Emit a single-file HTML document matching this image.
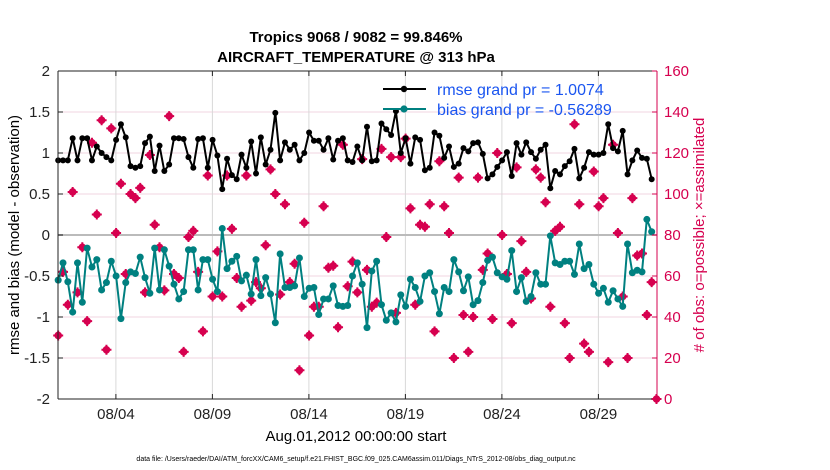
<!DOCTYPE html>
<html><head><meta charset="utf-8"><style>
body{margin:0;background:#fff;}
svg{display:block;font-family:"Liberation Sans",sans-serif;}
</style></head><body>
<svg id="chart" width="830" height="470" viewBox="0 0 830 470" xmlns="http://www.w3.org/2000/svg">
<text x="356" y="42" text-anchor="middle" font-size="15" font-weight="bold">Tropics 9068 / 9082 = 99.846%</text>
<text x="356" y="62" text-anchor="middle" font-size="15" font-weight="bold">AIRCRAFT_TEMPERATURE @ 313 hPa</text>
<g id="grid"></g>
<g id="marks"></g>
<g id="axes"></g>
<text x="356" y="441" text-anchor="middle" font-size="15">Aug.01,2012 00:00:00 start</text>
<text transform="translate(19,235) rotate(-90)" text-anchor="middle" font-size="15">rmse and bias (model - observation)</text>
<text transform="translate(704,235) rotate(-90)" text-anchor="middle" font-size="15" fill="#d6004f"># of obs: o=possible; ×=assimilated</text>
<text x="356" y="461" text-anchor="middle" font-size="7">data file: /Users/raeder/DAI/ATM_forcXX/CAM6_setup/f.e21.FHIST_BGC.f09_025.CAM6assim.011/Diags_NTrS_2012-08/obs_diag_output.nc</text>
<g>
<line x1="383" y1="89" x2="426" y2="89" stroke="#000" stroke-width="2"/>
<circle cx="404" cy="89" r="3.2" fill="#000"/>
<text x="437" y="95" font-size="16" fill="#1a55f0">rmse grand pr = 1.0074</text>
<line x1="383" y1="109" x2="426" y2="109" stroke="#008080" stroke-width="2"/>
<circle cx="404" cy="109" r="3.6" fill="#008080"/>
<text x="437" y="115" font-size="16" fill="#1a55f0">bias grand pr = -0.56289</text>
</g>
</svg>
<script>
const rmse=[0.91,0.91,0.91,1.18,0.91,1.18,1.18,0.91,1.08,1.0,0.95,0.91,1.16,1.35,1.19,0.84,0.82,0.84,1.12,1.2,0.78,1.09,0.78,0.86,1.18,1.18,1.17,0.95,0.82,1.17,
1.18,0.82,1.16,0.97,0.56,0.93,0.73,0.68,0.98,0.82,1.14,0.75,1.19,0.86,1.04,1.49,0.91,1.13,1.04,1.10,0.91,1.0,1.25,1.15,1.15,1.04,1.18,0.92,1.15,1.18,0.91,
0.89,1.08,0.91,1.32,0.90,0.91,1.36,1.29,1.22,1.51,1.0,1.18,0.87,1.19,1.16,0.79,0.82,1.25,1.21,0.94,1.08,0.83,0.87,1.06,1.02,1.12,1.13,0.99,0.69,0.74,0.83,
0.91,1.01,0.72,1.12,0.98,1.13,1.01,0.93,1.04,1.10,0.57,0.78,0.74,0.84,0.90,1.05,0.69,0.82,1.01,0.98,0.98,1.0,1.35,1.06,1.02,1.27,0.74,0.91,1.03,0.94,0.93,0.68];
const bias=[-0.55,-0.34,-0.57,-0.94,-0.34,-0.82,-0.16,-0.39,-0.30,-0.67,-0.58,-0.32,-0.50,-1.02,-0.58,-0.45,-0.47,-0.27,-0.52,-0.71,-0.16,-0.67,-0.18,-0.38,-0.60,-0.78,-0.69,-0.18,-0.18,-0.67,
-0.30,-0.30,-0.54,-0.69,0.08,-0.41,-0.32,-0.26,-0.56,-0.49,-0.72,-0.30,-0.74,-0.52,-0.72,-1.07,-0.23,-0.64,-0.64,-0.62,-0.28,-0.75,-0.65,-0.64,-0.97,-0.78,-0.78,-0.62,-0.86,-0.87,-0.86,
-0.50,-0.34,-0.60,-1.13,-0.44,-0.32,-0.85,-1.04,-0.95,-1.06,-0.73,-0.87,-0.54,-0.64,-0.81,-0.50,-0.46,-0.69,-0.96,-0.64,-0.69,-0.30,-0.45,-0.68,-0.51,-0.85,-0.80,-0.58,-0.31,-0.27,-0.46,
-0.51,-0.54,-0.19,-0.69,-0.52,-0.81,-0.75,-0.46,-0.60,-0.60,-0.01,-0.34,-0.36,-0.32,-0.32,-0.48,-0.11,-0.41,-0.36,-0.60,-0.71,-0.65,-0.82,-0.68,-0.78,-0.87,-0.11,-0.46,-0.43,-0.45,0.19,0.04];
const nobs=[31,62,46,101,52,74,38,125,90,136,24,132,81,105,61,100,98,103,52,119,85,74,53,138,61,59,23,79,82,62,
33,109,50,72,50,109,83,59,45,109,48,57,54,75,112,100,51,95,57,66,14,86,31,45,45,94,64,65,35,124,55,
67,52,117,63,45,47,122,79,118,42,118,127,93,46,85,84,95,33,116,94,81,20,108,41,23,40,108,63,71,39,120,
80,61,37,113,77,62,49,112,108,96,45,82,84,37,20,134,95,27,23,111,94,98,18,124,81,50,20,98,70,71,41,57,0];
const xTickDays=[3,8,13,18,23,28];
const xTickLabels=["08/04","08/09","08/14","08/19","08/24","08/29"];
const yLeftTicks=[2,1.5,1,0.5,0,-0.5,-1,-1.5,-2];
const yRightTicks=[0,20,40,60,80,100,120,140,160];

const L=58,R=657,T=71,B=399;
const xS=d=>L+d*19.3;
const tOf=i=>i*0.25+0.01;
const yL=v=>235-v*82;
const yR=n=>B-n*(B-T)/160;
const NS="http://www.w3.org/2000/svg";
function mk(p,tag,at){const e=document.createElementNS(NS,tag);for(const k in at)e.setAttribute(k,at[k]);p.appendChild(e);return e;}
const grid=document.getElementById('grid'),marks=document.getElementById('marks'),axes=document.getElementById('axes');

yRightTicks.forEach(n=>{const y=yR(n);
 const g=mk(grid,'line',{x1:L,x2:R,y1:y,y2:y,stroke:'#f2d4e0','stroke-width':1});
 
 });
xTickDays.forEach(d=>{const x=xS(d);
 const g=mk(grid,'line',{x1:x,x2:x,y1:T,y2:B,stroke:'#d9d9d9','stroke-width':1});
 
 });
const zl=mk(grid,'line',{x1:L,x2:R,y1:yL(0),y2:yL(0),stroke:'#bbb','stroke-width':2});



nobs.forEach((n,i)=>{const x=xS(tOf(i)),y=yR(n);
 const g=mk(marks,'g',{});
 
 
 mk(g,'circle',{cx:x,cy:y,r:3.8,fill:'#d6004f'});
 mk(g,'path',{d:`M${x-5} ${y}H${x+5}M${x} ${y-5}V${y+5}`,stroke:'#d6004f','stroke-width':2});
});
function series(arr,color,r,name){
 const pts=arr.map((v,i)=>xS(tOf(i)).toFixed(1)+','+yL(v).toFixed(1)).join(' ');
 const pl=mk(marks,'polyline',{points:pts,fill:'none',stroke:color,'stroke-width':2,'stroke-linejoin':'round'});
 
 
 arr.forEach((v,i)=>{const c=mk(marks,'circle',{cx:xS(tOf(i)),cy:yL(v),r:r,fill:color});
  
  });
}
series(bias,'#008080',3.5,'bias');
series(rmse,'#000',3,'rmse');

mk(axes,'line',{x1:L,x2:R,y1:T,y2:T,stroke:'#222','stroke-width':1});
mk(axes,'line',{x1:L,x2:R,y1:B,y2:B,stroke:'#222','stroke-width':1});
mk(axes,'line',{x1:L,x2:L,y1:T,y2:B,stroke:'#222','stroke-width':1});
mk(axes,'line',{x1:R,x2:R,y1:T,y2:B,stroke:'#d6004f','stroke-width':1});
yLeftTicks.forEach(v=>{const y=yL(v);
 mk(axes,'line',{x1:L,x2:L+5,y1:y,y2:y,stroke:'#222'});
 const t=mk(axes,'text',{x:L-8,y:y+5,'text-anchor':'end','font-size':15,fill:'#222'});
 t.textContent=String(v);
 
 });
yRightTicks.forEach(n=>{const y=yR(n);
 mk(axes,'line',{x1:R-5,x2:R,y1:y,y2:y,stroke:'#d6004f'});
 const t=mk(axes,'text',{x:R+7,y:y+5,'font-size':15,fill:'#d6004f'});
 t.textContent=String(n);
 
 });
xTickDays.forEach((d,k)=>{const x=xS(d);
 mk(axes,'line',{x1:x,x2:x,y1:B,y2:B-5,stroke:'#222'});
 mk(axes,'line',{x1:x,x2:x,y1:T,y2:T+5,stroke:'#222'});
 const t=mk(axes,'text',{x:x,y:B+20,'text-anchor':'middle','font-size':15,fill:'#222'});
 t.textContent=xTickLabels[k];
 
 });
</script>
</body></html>
